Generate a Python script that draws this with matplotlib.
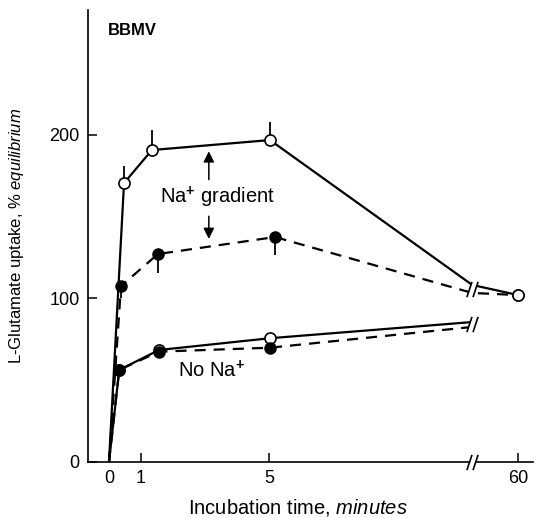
import numpy as np
import matplotlib
matplotlib.use("Agg")
import matplotlib.pyplot as plt
from matplotlib.path import Path

plt.rcParams['font.family'] = ['Liberation Sans', 'DejaVu Sans']
plt.rcParams['mathtext.fontset'] = 'custom'
plt.rcParams['mathtext.rm'] = 'Liberation Sans'
plt.rcParams['mathtext.it'] = 'Liberation Sans:italic'
plt.rcParams['mathtext.bf'] = 'Liberation Sans:bold'

# ---------------- data (minutes, % equilibrium) ----------------
x_tick_values = [0, 1, 5, 60]
x_tick_labels = ['0', '1', '5', '60']
y_tick_values = [0, 100, 200]

break_time = 11.35  # position of the axis break (minutes)

time_na_open = [0, 0.47, 1.34, 5.03, 60]
na_open = [0, 170.6, 190.8, 196.9, 102.1]
na_open_err = [0, 10.4, 12.2, 11.1, 0]
na_open_at_break = 108.3

time_na_filled = [0, 0.375, 1.53, 5.19, 60]
na_filled = [0, 107.6, 127.2, 137.6, 102.1]
na_filled_err = [0, 7.3, 11.6, 11.0, 0]
na_filled_at_break = 103.4

time_nona = [0, 0.32, 1.56, 5.03]
nona_open = [0, 56.3, 68.5, 75.7]
nona_filled = [0, 56.3, 67.5, 69.9]
nona_open_at_break = 85.6
nona_filled_at_break = 82.6

# ---------------- broken x scale ----------------
K = (12.78 - break_time) / (60 - break_time)


def fwd(t):
    t = np.asarray(t, dtype=float)
    return np.where(t <= break_time, t, break_time + (t - break_time) * K)


def inv(u):
    u = np.asarray(u, dtype=float)
    return np.where(u <= break_time, u, break_time + (u - break_time) / K)


fig = plt.figure(figsize=(5.42, 5.18), dpi=100)
ax = fig.add_axes([88 / 542, 1 - 462 / 518, (533 - 88) / 542, (462 - 10) / 518])
ax.set_xscale('function', functions=(fwd, inv))
ax.set_xlim(-0.656, float(inv(13.25)))
ax.set_ylim(0, 276.45)

LW = 1.6
MS = 8
dash = (0, (5, 3.6))


def with_break(t, v, vb, tail=True):
    if tail:
        return list(t[:-1]) + [break_time] + list(t[-1:]), list(v[:-1]) + [vb] + list(v[-1:])
    return list(t) + [break_time], list(v) + [vb]


# Na gradient, filled / dashed
tl, vl = with_break(time_na_filled, na_filled, na_filled_at_break)
ax.plot(tl, vl, color='black', lw=LW, linestyle=dash, zorder=2)
ax.plot(time_na_filled[1:], na_filled[1:], 'o', color='black', ms=MS, zorder=3)
for t, v, e in zip(time_na_filled, na_filled, na_filled_err):
    if e > 0:
        ax.vlines(t, v - e, v, color='black', lw=1.3, zorder=2)

# Na gradient, open / solid
tl, vl = with_break(time_na_open, na_open, na_open_at_break)
ax.plot(tl, vl, color='black', lw=LW, zorder=3)
ax.plot(time_na_open[1:], na_open[1:], 'o', mfc='white', mec='black', mew=1.2, ms=MS, zorder=4)
for t, v, e in zip(time_na_open, na_open, na_open_err):
    if e > 0:
        ax.vlines(t, v, v + e, color='black', lw=1.3, zorder=2)

# No Na+, open / solid
tl, vl = with_break(time_nona, nona_open, nona_open_at_break, tail=False)
ax.plot(tl, vl, color='black', lw=LW, zorder=3)
ax.plot(time_nona[1:], nona_open[1:], 'o', mfc='white', mec='black', mew=1.2, ms=MS, zorder=4)

# No Na+, filled / dashed
tl, vl = with_break(time_nona, nona_filled, nona_filled_at_break, tail=False)
ax.plot(tl, vl, color='black', lw=LW, linestyle=dash, zorder=2)
ax.plot(time_nona[1:], nona_filled[1:], 'o', color='black', ms=MS, zorder=5)

# ---------------- break marks ----------------
gap_path = Path([(-5.5, -7.5), (0.5, -7.5), (5.5, 7.5), (-0.5, 7.5), (-5.5, -7.5)],
                [Path.MOVETO, Path.LINETO, Path.LINETO, Path.LINETO, Path.CLOSEPOLY])
slash_path = Path([(-5.5, -7.5), (-0.5, 7.5), (0.5, -7.5), (5.5, 7.5)],
                  [Path.MOVETO, Path.LINETO, Path.MOVETO, Path.LINETO])
break_levels = [0,
                (na_open_at_break + na_filled_at_break) / 2,
                (nona_open_at_break + nona_filled_at_break) / 2]
for lvl in break_levels:
    ax.plot([break_time], [lvl], marker=gap_path, ms=11, mfc='white', mec='none',
            linestyle='none', zorder=6, clip_on=False)
    ax.plot([break_time], [lvl], marker=slash_path, ms=11, mfc='none', mec='black',
            mew=1.2, linestyle='none', zorder=7, clip_on=False)

# ---------------- annotations ----------------
x_arrow = 3.12
top_line = np.interp(x_arrow, time_na_open[:-1], na_open[:-1])
bot_line = np.interp(x_arrow, time_na_filled[:-1], na_filled[:-1])
ax.annotate('', xy=(x_arrow, top_line - 2), xytext=(x_arrow, 171),
            arrowprops=dict(arrowstyle='-|>', color='black', lw=1.1, mutation_scale=16))
ax.annotate('', xy=(x_arrow, bot_line + 3), xytext=(x_arrow, 152),
            arrowprops=dict(arrowstyle='-|>', color='black', lw=1.1, mutation_scale=16))
ax.text(1.59, 158.4, r'Na$^{\mathbf{+}}$ gradient', fontsize=14.5, ha='left', va='baseline')
ax.text(2.16, 52, r'No Na$^{\mathbf{+}}$', fontsize=14.5, ha='left', va='baseline')
ax.text(-0.03, 261, 'BBMV', fontsize=12, fontweight='bold', ha='left', va='baseline')

# ---------------- axes styling ----------------
for s in ['top', 'right']:
    ax.spines[s].set_visible(False)
for s in ['left', 'bottom']:
    ax.spines[s].set_linewidth(1.2)

ax.set_xticks(x_tick_values)
ax.set_xticklabels(x_tick_labels)
ax.xaxis.set_minor_locator(matplotlib.ticker.NullLocator())
ax.set_yticks(y_tick_values)
ax.tick_params(direction='in', length=6.5, width=1.1, labelsize=13)
ax.tick_params(axis='x', pad=6)
ax.tick_params(axis='y', pad=6)

ax.set_xlabel(r'Incubation time, $\it{minutes}$', fontsize=14.5, labelpad=7, x=0.472)
ax.set_ylabel(r'L-Glutamate uptake, $\it{\%\ equilibrium}$', fontsize=12, labelpad=17)

fig.savefig('out.png', dpi=100)
